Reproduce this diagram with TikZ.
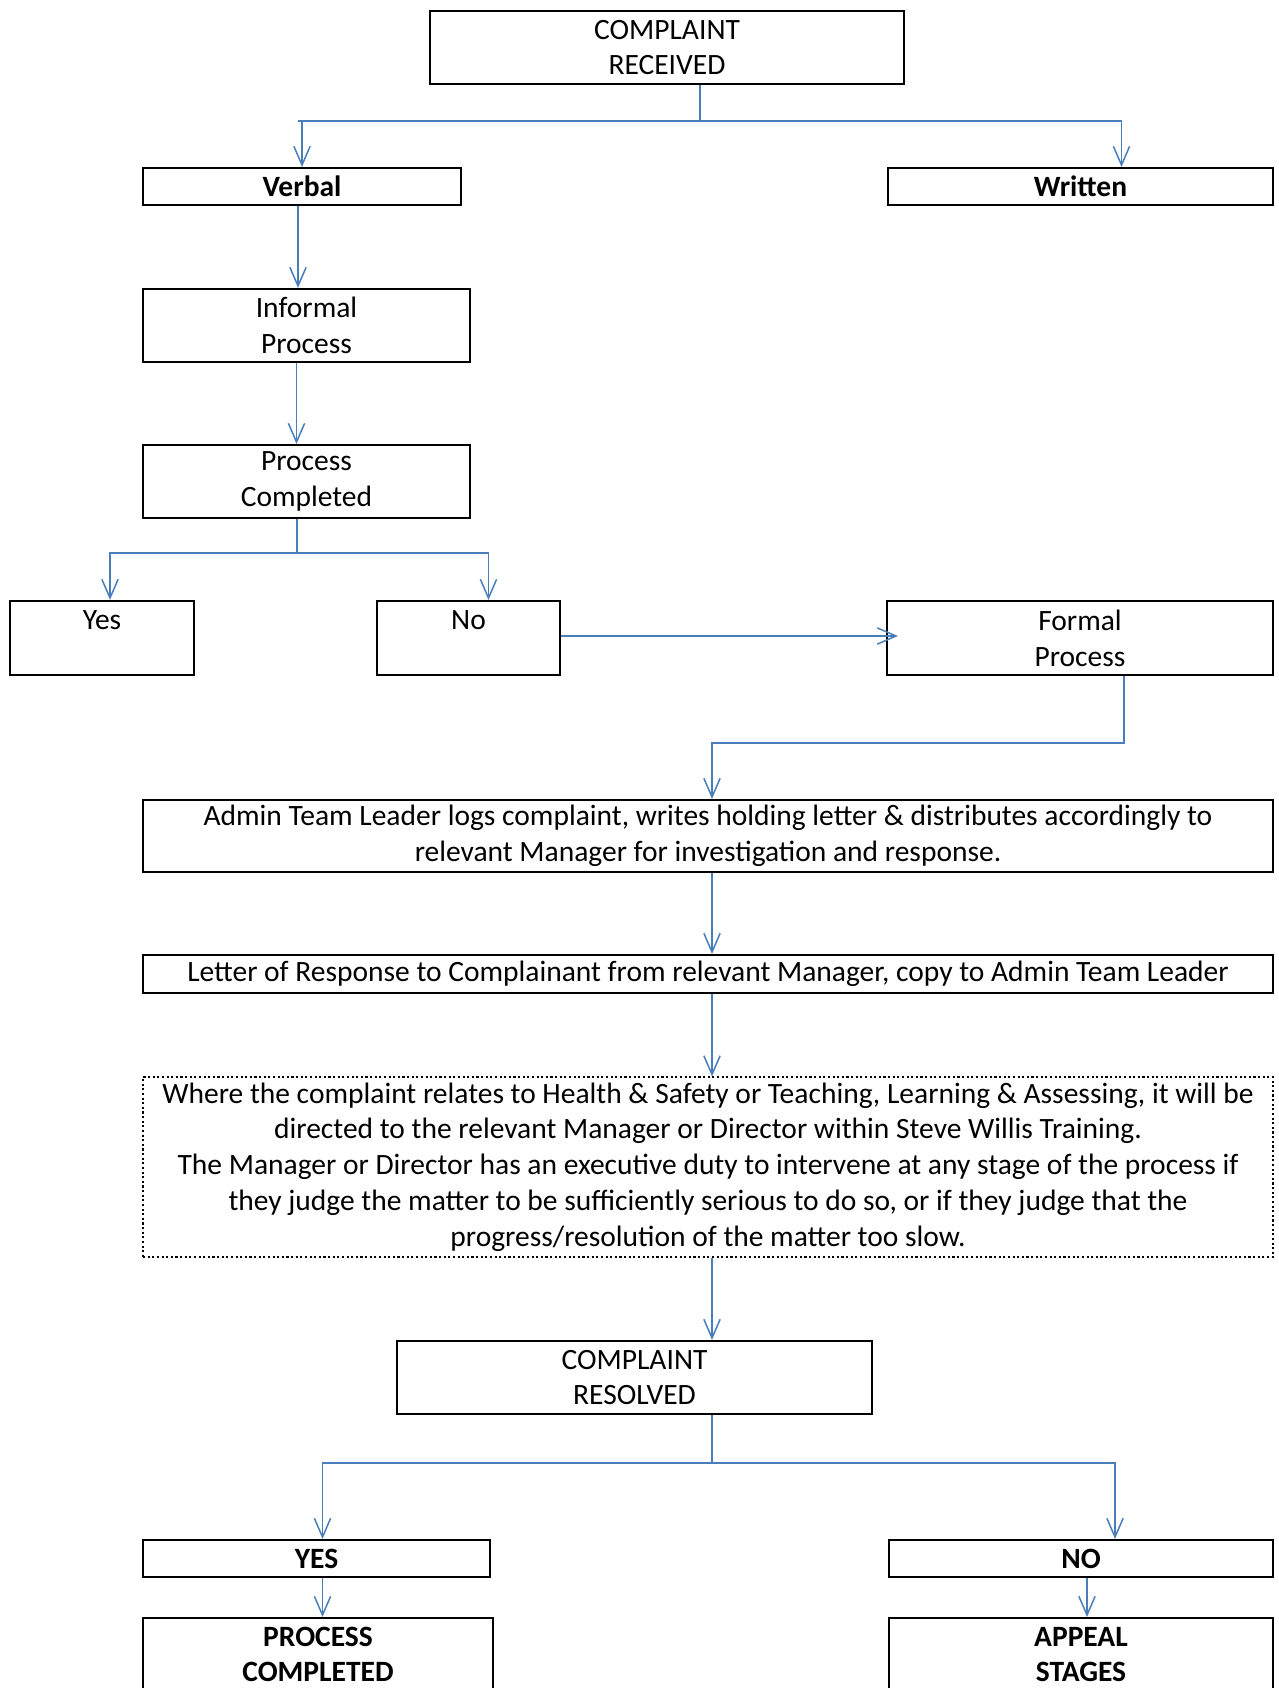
\documentclass[tikz,border=0pt]{standalone}
\usepackage{fontspec}
\setmainfont{Carlito}
\usetikzlibrary{arrows.meta,calc}

\definecolor{linkblue}{HTML}{4A7EBB}

\tikzset{
    box/.style={draw, line width=0.85pt, inner sep=0pt, align=center,
        font=\fontsize{11.8}{14.3}\selectfont},
    notebox/.style={box, densely dotted, line width=0.5pt},
    boxsize/.style 2 args={minimum width=#1*0.4pt, minimum height=#2*0.4pt},
    link/.style={draw=linkblue, line width=0.6pt},
    arr/.style={link, -{Straight Barb[length=7.5pt,width=6.5pt]}}
}

\begin{document}
\begin{tikzpicture}[x=0.4pt, y=-0.4pt]
\fill[white] (0,0) rectangle (1279,1688);
\useasboundingbox (0,0) rectangle (1279,1688);

% boxes
\node[box, boxsize={474}{73}] (recv) at (667,47.5) {COMPLAINT\\RECEIVED};
\node[box, boxsize={318}{37}] (verbal) at (302,186.5) {\textbf{Verbal}};
\node[box, boxsize={385}{37}] (written) at (1080.5,186.5) {\textbf{Written}};
\node[box, boxsize={327}{73}] (informal) at (306.5,325.5) {Informal\\Process};
\node[box, boxsize={327}{73}] (completed) at (306.5,481.5) {Process\\Completed};
\node[box, boxsize={184}{74}] (yes) at (102,638) {Yes\\~};
\node[box, boxsize={183}{74}] (no) at (468.5,638) {No\\~};
\node[box, boxsize={386}{74}] (formal) at (1080,638) {Formal\\Process};
\node[box, boxsize={1130}{72}] (admin) at (708,836)
    {Admin Team Leader logs complaint, writes holding letter \& distributes accordingly to\\
     relevant Manager for investigation and response.};
\node[box, boxsize={1130}{38}] (letter) at (708,974)
    {Letter of Response to Complainant from relevant Manager, copy to Admin Team Leader};
\node[notebox, boxsize={1130}{180}] (note) at (708,1167)
    {Where the complaint relates to Health \& Safety or Teaching, Learning \& Assessing, it will be\\
     directed to the relevant Manager or Director within Steve Willis Training.\\
     The Manager or Director has an executive duty to intervene at any stage of the process if\\
     they judge the matter to be sufficiently serious to do so, or if they judge that the\\
     progress/resolution of the matter too slow.};
\node[box, boxsize={475}{73}] (resolved) at (634.5,1377.5) {COMPLAINT\\RESOLVED};
\node[box, boxsize={347}{37}] (yesR) at (316.5,1558.5) {\textbf{YES}};
\node[box, boxsize={384}{37}] (noR) at (1081,1558.5) {\textbf{NO}};
\node[box, boxsize={350}{73}] (done) at (318,1654.5) {\textbf{PROCESS}\\\textbf{COMPLETED}};
\node[box, boxsize={384}{73}] (appeal) at (1081,1654.5) {\textbf{APPEAL}\\\textbf{STAGES}};

% junctions
\coordinate (j1) at (700,121);
\coordinate (j2) at (297,553);
\coordinate (j3) at (712,743);
\coordinate (j4) at (712,1463);

% connectors
\draw[link] (recv.south -| j1) -- (j1);
\draw[link] ($(j1 -| verbal.north)+(-4,0)$) -- (j1);
\draw[arr] (j1) -| (verbal.north);
\draw[arr] (j1) -| ($(written.north)+(41,0)$);
\draw[arr] ($(verbal.south)+(-4,0)$) -- ($(verbal.south |- informal.north)+(-4,0)$);
\draw[arr] ($(informal.south)+(-10,0)$) -- ($(completed.north)+(-10,0)$);
\draw[link] (completed.south -| j2) -- (j2);
\draw[arr] (j2) -| ($(yes.north)+(8,0)$);
\draw[arr] (j2) -| ($(no.north)+(20,0)$);
\draw[arr, shorten >=-4.8pt] ($(no.east)+(0,-2)$) -- ($(formal.west)+(0,-2)$);
\draw[arr] ($(formal.south)+(44,0)$) |- (j3) -- (j3 |- admin.north);
\draw[arr] (admin.south -| j3) -- (letter.north -| j3);
\draw[arr] (letter.south -| j3) -- (note.north -| j3);
\draw[arr] (note.south -| j3) -- (resolved.north -| j3);
\draw[link] (resolved.south -| j4) -- (j4);
\draw[arr] (j4) -| ($(yesR.north)+(6,0)$);
\draw[arr] (j4) -| ($(noR.north)+(34,0)$);
\draw[arr] ($(yesR.south)+(6,0)$) -- ($(done.north)+(4.5,0)$);
\draw[arr] ($(noR.south)+(6,0)$) -- ($(appeal.north)+(6,0)$);
\end{tikzpicture}
\end{document}
